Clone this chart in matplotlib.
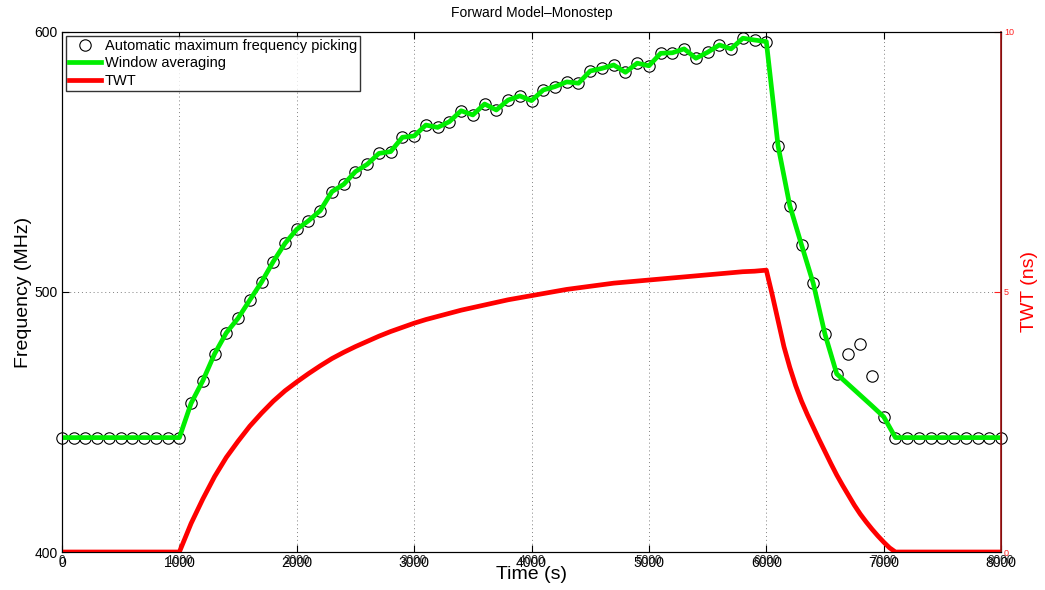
import numpy as np
import matplotlib
matplotlib.use('Agg')
import matplotlib.pyplot as plt

plt.rcParams['font.family'] = ['Liberation Sans', 'DejaVu Sans']

# picked frequencies, one every 100 s
t_pick = np.arange(0, 8001, 100)
f_pick = [444, 444, 444, 444, 444, 444, 444, 444, 444, 444, 444,
          457.2, 465.9, 476.2, 484.3, 489.9, 496.9, 503.8, 511.7, 518.7, 524.1,
          527.4, 531.3, 538.6, 541.4, 546.3, 549.1, 553.3, 554.0, 559.5, 560.0,
          564.2, 563.3, 565.5, 569.7, 568.1, 572.3, 570.0, 573.8, 575.4, 573.6,
          577.7, 579.0, 580.8, 580.3, 585.0, 586.0, 587.3, 584.5, 588.0, 587.0,
          591.8, 592.0, 593.5, 589.9, 592.2, 595.0, 593.5, 597.6, 596.9, 596.3,
          556.2, 533.2, 518.1, 503.3, 483.7, 468.5, 476.0, 479.9, 467.7, 452.0,
          444, 444, 444, 444, 444, 444, 444, 444, 444, 444]

# window averaged frequencies
f_avg = list(f_pick)
f_avg[67:70] = [464.4, 460.3, 456.2]

# two way travel time (ns)
t_twt = [0, 1000, 1100, 1200, 1300, 1400, 1500, 1600, 1700, 1800, 1900,
         2000, 2100, 2200, 2300, 2400, 2500, 2600, 2700, 2800, 2900,
         3000, 3100, 3200, 3300, 3400, 3500, 3600, 3700, 3800, 3900,
         4000, 4100, 4200, 4300, 4400, 4500, 4600, 4700, 4800, 4900,
         5000, 5100, 5200, 5300, 5400, 5500, 5600, 5700, 5800, 5900, 6000,
         6050, 6100, 6150, 6200, 6250, 6300, 6350, 6400, 6450, 6500, 6550,
         6600, 6650, 6700, 6750, 6800, 6850, 6900, 6950, 7000, 7050, 7100, 8000]
twt = [0, 0, 0.55, 1.02, 1.45, 1.82, 2.13, 2.42, 2.67, 2.9, 3.1,
       3.27, 3.43, 3.58, 3.72, 3.84, 3.95, 4.05, 4.15, 4.24, 4.32,
       4.4, 4.47, 4.53, 4.59, 4.65, 4.7, 4.75, 4.8, 4.85, 4.89,
       4.93, 4.97, 5.01, 5.05, 5.08, 5.11, 5.14, 5.17, 5.19, 5.21,
       5.23, 5.25, 5.27, 5.29, 5.31, 5.33, 5.35, 5.37, 5.39, 5.4, 5.42,
       4.95, 4.45, 3.95, 3.55, 3.2, 2.9, 2.64, 2.4, 2.16, 1.93, 1.7,
       1.48, 1.28, 1.09, 0.9, 0.73, 0.58, 0.44, 0.31, 0.19, 0.08, 0, 0]

fig = plt.figure(figsize=(10.45, 5.9), dpi=100)
ax = fig.add_axes([0.0593, 0.0644, 0.8987, 0.8814])

h1, = ax.plot(t_pick, f_pick, 'o', mfc='none', mec='black', ms=8.2, mew=0.8,
              label='Automatic maximum frequency picking', zorder=2, clip_on=False)
h2, = ax.plot(t_pick, f_avg, '-', color='#00ee00', lw=3.4, label='Window averaging', zorder=3)

ax.set_xlim(0, 8000)
ax.set_ylim(400, 600)
ax.set_xticks(np.arange(0, 8001, 1000))
ax.set_yticks([400, 500, 600])
ax.grid(True, linestyle=(0, (1, 3)), color='gray', linewidth=0.7)
ax.tick_params(direction='in', top=True, labelsize=10, length=5, pad=3)
ax.set_xlabel('Time (s)', fontsize=14, labelpad=-3)
ax.set_ylabel('Frequency (MHz)', fontsize=14, labelpad=2)
ax.set_title('Forward Model\u2013Monostep', fontsize=10, pad=11)

ax2 = ax.twinx()
h3, = ax2.plot(t_twt, twt, '-', color='#ff0000', lw=3.4, label='TWT', zorder=2)
ax2.set_ylim(0, 10)
ax2.set_yticks([0, 5, 10])
ax2.tick_params(axis='y', direction='in', colors='#ff2020', labelsize=6.5, length=5, pad=2)
ax2.spines['right'].set_color('#a01010')
ax2.spines['right'].set_linewidth(1.2)
ax2.set_ylabel('TWT (ns)', color='#ff0000', fontsize=14, labelpad=5)

# second set of x labels from the twin axes, drawn over the first
ax2.xaxis.set_visible(True)
ax2.tick_params(axis='x', direction='in', labelsize=8.5, length=0, pad=2, colors='#222222')

leg = ax2.legend(handles=[h1, h2, h3], loc='upper left', fontsize=10.5, frameon=True,
                 fancybox=False, edgecolor='black', handlelength=2.2, handletextpad=0.25,
                 borderpad=0.2, labelspacing=0.22, borderaxespad=0.3)
leg.get_frame().set_linewidth(1.0)

plt.savefig('out.png', dpi=100)
